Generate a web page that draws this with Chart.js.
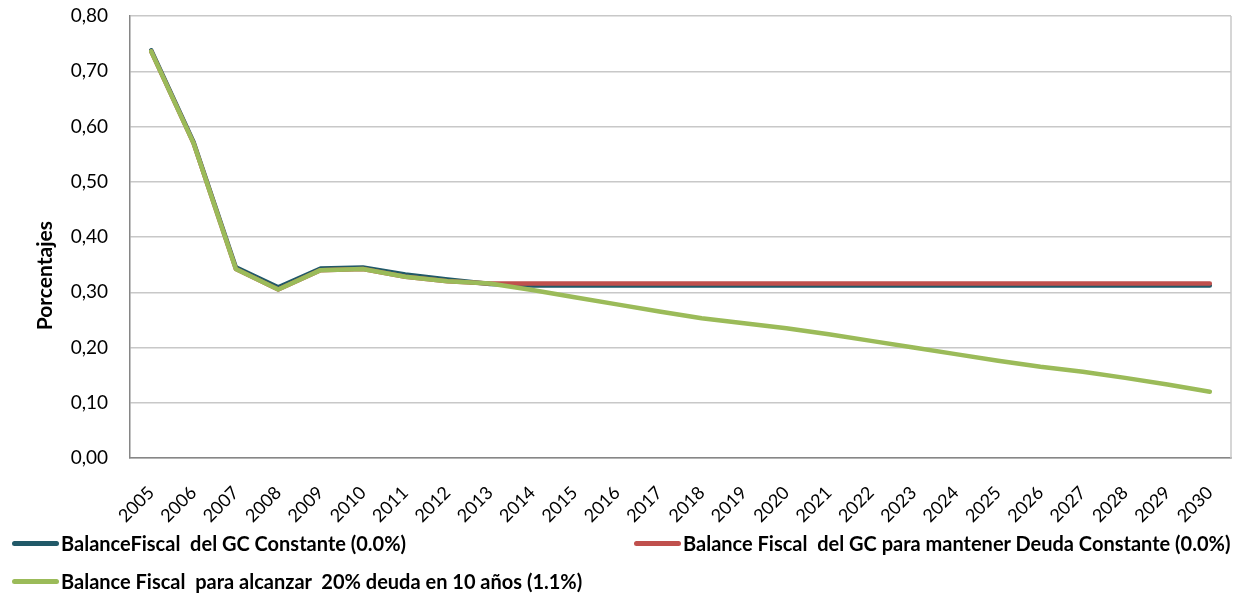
<!DOCTYPE html>
<html>
<head>
<meta charset="utf-8">
<script src="https://cdn.jsdelivr.net/npm/chart.js@4.4.1/dist/chart.umd.min.js"></script>
<style>
  html, body { margin: 0; padding: 0; background: #ffffff; }
  #wrap { position: relative; width: 1239px; height: 596px; overflow: hidden; }
  #c { position: absolute; left: 0; top: 0; }
  .leg { position: absolute; display: flex; align-items: center; white-space: pre;
         font-family: Lato, "Open Sans", sans-serif; font-weight: bold; font-size: 20px; color: #000; }
  .sw { display: inline-block; width: 47px; height: 5px; border-radius: 3px; margin-right: 2px; }
</style>
</head>
<body>
<div id="wrap">
  <canvas id="c" width="1239" height="596"></canvas>
  <div id="legend"></div>
</div>
<script>
const years = ['2005','2006','2007','2008','2009','2010','2011','2012','2013','2014','2015','2016','2017',
  '2018','2019','2020','2021','2022','2023','2024','2025','2026','2027','2028','2029','2030'];

const seriesNames = [
  'BalanceFiscal  del GC Constante (0.0%)',
  'Balance Fiscal  del GC para mantener Deuda Constante (0.0%)',
  'Balance Fiscal  para alcanzar  20% deuda en 10 años (1.1%)'
];

const balanceConstante = [0.738, 0.572, 0.345, 0.309, 0.343, 0.345, 0.332, 0.323, 0.315, 0.312, 0.312, 0.312, 0.312,
  0.312, 0.312, 0.312, 0.312, 0.312, 0.312, 0.312, 0.312, 0.312, 0.312, 0.312, 0.312, 0.312];

const deudaConstante = [0.736, 0.570, 0.342, 0.305, 0.340, 0.342, 0.328, 0.320, 0.316, 0.316, 0.316, 0.316, 0.316,
  0.316, 0.316, 0.316, 0.316, 0.316, 0.316, 0.316, 0.316, 0.316, 0.316, 0.316, 0.316, 0.316];

const deuda20 = [0.736, 0.570, 0.342, 0.305, 0.340, 0.342, 0.328, 0.320, 0.316, 0.304, 0.291, 0.278, 0.265,
  0.253, 0.244, 0.235, 0.224, 0.212, 0.200, 0.188, 0.176, 0.165, 0.156, 0.145, 0.133, 0.120];

const seriesColors = ['#215968', '#c0504d', '#9bbb59'];

const yTicks = { min: 0, max: 0.8, step: 0.1 };
const yTitle = 'Porcentajes';

const FONT = 'Lato, "Open Sans", sans-serif';

const frame = {
  id: 'frame',
  beforeDatasetsDraw(chart) {
    const { ctx, chartArea } = chart;
    ctx.save();
    ctx.strokeStyle = '#c8c8c8';
    ctx.lineWidth = 1.5;
    ctx.beginPath();
    ctx.moveTo(chartArea.right, chartArea.top);
    ctx.lineTo(chartArea.right, chartArea.bottom);
    ctx.stroke();
    ctx.restore();
  }
};

// y-axis title, placed like the reference (a little below the plot centre)
const axisTitle = {
  id: 'axisTitle',
  afterDraw(chart) {
    const { ctx } = chart;
    const y = chart.scales.y;
    ctx.save();
    ctx.font = 'bold 21px ' + FONT;
    ctx.fillStyle = '#000';
    ctx.textAlign = 'center';
    ctx.textBaseline = 'middle';
    ctx.translate(45, y.getPixelForValue(0.33));
    ctx.rotate(-Math.PI / 2);
    ctx.fillText(yTitle, 0, 0);
    ctx.restore();
  }
};

const mk = (i, data, order) => ({
  label: seriesNames[i], data, borderColor: seriesColors[i], backgroundColor: seriesColors[i],
  borderWidth: 4.5, pointRadius: 0, tension: 0, fill: false,
  borderCapStyle: 'round', borderJoinStyle: 'round', order
});

new Chart(document.getElementById('c'), {
  type: 'line',
  data: {
    labels: years,
    datasets: [mk(0, balanceConstante, 3), mk(1, deudaConstante, 2), mk(2, deuda20, 1)]
  },
  options: {
    responsive: false,
    animation: false,
    devicePixelRatio: 1,
    layout: { padding: { top: 16, right: 8, left: 0, bottom: 0 } },
    plugins: { legend: { display: false }, tooltip: { enabled: false } },
    scales: {
      x: {
        type: 'category',
        offset: true,
        grid: { display: true, drawOnChartArea: false, color: 'transparent',
                drawTicks: true, tickLength: 24, tickColor: 'transparent' },
        border: { display: true, color: '#868686', width: 1.5 },
        ticks: { autoSkip: false, minRotation: 45, maxRotation: 45, padding: 0,
                 color: '#000', font: { family: FONT, size: 18 } },
        afterFit(scale) { scale.height = 138; }
      },
      y: {
        min: yTicks.min, max: yTicks.max,
        grid: { color: '#c8c8c8', lineWidth: 1.5, drawTicks: true, tickLength: 22, tickColor: 'transparent' },
        border: { display: true, color: '#868686', width: 1.5 },
        ticks: { stepSize: yTicks.step, padding: 0, color: '#000',
                 font: { family: FONT, size: 19 },
                 callback: v => Number(v).toFixed(2).replace('.', ',') },
        title: { display: false, text: yTitle },
        afterFit(scale) { scale.width = 130; }
      }
    }
  },
  plugins: [frame, axisTitle]
});

// HTML legend built from the series names/colours
const legendPos = [
  { left: 12, top: 543 },
  { left: 634, top: 543 },
  { left: 12, top: 581 }
];
const leg = document.getElementById('legend');
seriesNames.forEach((name, i) => {
  const d = document.createElement('div');
  d.className = 'leg';
  d.style.left = legendPos[i].left + 'px';
  d.style.top = (legendPos[i].top - 12) + 'px';
  d.style.height = '24px';
  const s = document.createElement('span');
  s.className = 'sw';
  s.style.background = seriesColors[i];
  const t = document.createElement('span');
  t.textContent = name;
  d.appendChild(s); d.appendChild(t);
  leg.appendChild(d);
});
</script>
</body>
</html>
